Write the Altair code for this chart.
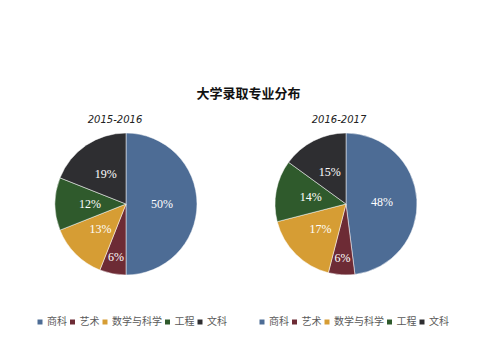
import altair as alt
import pandas as pd

title_main = "大学录取专业分布"
years = ["2015-2016", "2016-2017"]
categories = ["商科", "艺术", "数学与科学", "工程", "文科"]
values_2015 = [50, 6, 13, 12, 19]
values_2016 = [48, 6, 17, 14, 15]
colors = ["#4d6c95", "#6d2b35", "#d69d34", "#2f5a2c", "#2e2e31"]

series = {years[0]: values_2015, years[1]: values_2016}
legend_x = {years[0]: 9, years[1]: 11}
title_dx = {years[0]: -11, years[1]: -7}


def pie(year):
    df = pd.DataFrame({
        "cat": categories,
        "value": series[year],
        "idx": list(range(len(categories))),
    })
    base = alt.Chart(df).transform_window(
        cum="sum(value)", sort=[alt.SortField("idx")]
    ).transform_calculate(
        mid="datum.cum - datum.value / 2",
        label="datum.value + '%'",
    )
    theta_scale = alt.Scale(domain=[0, 100], range=[0, 6.283185307])
    arc = base.mark_arc(outerRadius=71, stroke="#ffffff", strokeWidth=0.5).encode(
        theta=alt.Theta("value:Q", stack=True, scale=theta_scale),
        color=alt.Color(
            "cat:N",
            scale=alt.Scale(domain=categories, range=colors),
            title=None,
            legend=alt.Legend(
                orient="none",
                legendX=legend_x[year],
                legendY=188,
                direction="horizontal",
                symbolType="square",
                symbolSize=25,
                symbolStrokeWidth=0,
                labelFontSize=10,
                labelFont="Noto Sans CJK SC",
                labelColor="#595959",
                labelOffset=2,
                columnPadding=0.5,
                padding=0,
            ),
        ),
        order=alt.Order("idx:Q"),
    )
    txt_style = dict(fontSize=12, font="Liberation Serif", color="#ffffff")
    t1 = base.transform_filter("datum.value >= 10").mark_text(radius=36, **txt_style).encode(
        theta=alt.Theta("mid:Q", stack=False, scale=theta_scale),
        text="label:N",
    )
    t2 = base.transform_filter("datum.value < 10").mark_text(radius=54, **txt_style).encode(
        theta=alt.Theta("mid:Q", stack=False, scale=theta_scale),
        text="label:N",
    )
    return alt.layer(arc, t1, t2).properties(
        width=200,
        height=150,
        title=alt.TitleParams(
            year, fontSize=10, fontStyle="italic", fontWeight="normal",
            font="DejaVu Sans", color="#222222", offset=4, dx=title_dx[year],
        ),
    )


chart = alt.hconcat(pie(years[0]), pie(years[1]), spacing=19).resolve_scale(
    color="independent"
).resolve_legend(color="independent").properties(
    title=alt.TitleParams(
        title_main, fontSize=13, fontWeight="bold", font="Noto Sans CJK SC",
        color="#111111", anchor="middle", offset=14, dx=11,
    ),
    padding={"left": 18, "top": 80, "right": 0, "bottom": 0},
).configure_view(stroke=None).configure(background="#ffffff")

chart.save("out.html", embed_options={"renderer": "svg", "actions": False})
